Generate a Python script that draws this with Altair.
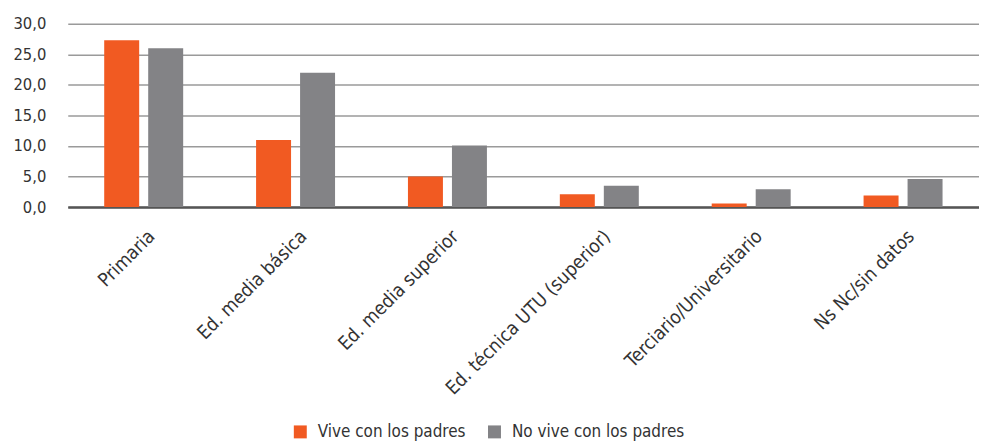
import altair as alt
import pandas as pd

categories = ["Primaria", "Ed. media básica", "Ed. media superior",
              "Ed. técnica UTU (superior)", "Terciario/Universitario", "Ns Nc/sin datos"]
series = ["Vive con los padres", "No vive con los padres"]
vive = [27.3, 11.0, 5.0, 2.1, 0.6, 1.9]
no_vive = [26.0, 22.0, 10.1, 3.5, 2.9, 4.6]
y_ticks = [0, 5, 10, 15, 20, 25, 30]
colors = ["#F15A22", "#838386"]

rows = []
for c, a, b in zip(categories, vive, no_vive):
    rows.append({"cat": c, "serie": series[0], "val": a})
    rows.append({"cat": c, "serie": series[1], "val": b})
df = pd.DataFrame(rows)

FONT = "DejaVu Sans Condensed, Liberation Sans Narrow, sans-serif"

chart = alt.Chart(df).mark_bar().encode(
    x=alt.X("cat:N", sort=categories, title=None,
            scale=alt.Scale(paddingInner=0.48, paddingOuter=0.24),
            axis=alt.Axis(labelAngle=-45, labelAlign="right", labelBaseline="middle",
                          ticks=False, domain=True, domainColor="#555555", domainWidth=2.5,
                          labelFontSize=19, labelColor="#333333", labelPadding=26,
                          labelFont=FONT, labelOffset=8, labelLimit=400)),
    xOffset=alt.XOffset("serie:N", sort=series,
                        scale=alt.Scale(paddingInner=0.205, paddingOuter=0)),
    y=alt.Y("val:Q", title=None,
            scale=alt.Scale(domain=[0, 30], nice=False),
            axis=alt.Axis(values=y_ticks, ticks=False, domain=False, grid=True,
                          gridColor="#9a9a9a", gridWidth=1.5,
                          labelExpr="replace(format(datum.value, '.1f'), '.', ',')",
                          labelFontSize=16.5, labelColor="#333333", labelPadding=22,
                          labelFont=FONT)),
    color=alt.Color("serie:N", sort=series, title=None,
                    scale=alt.Scale(domain=series, range=colors),
                    legend=alt.Legend(orient="none", legendX=225, legendY=401,
                                      direction="horizontal", symbolType="square",
                                      symbolSize=169, symbolStrokeWidth=0,
                                      labelFontSize=17, labelColor="#333333",
                                      labelFont=FONT, labelOffset=9, columnPadding=20,
                                      labelLimit=300)),
).properties(
    width=915, height=184,
    autosize=alt.AutoSizeParams(type="none"),
    padding={"left": 60, "top": 15, "right": 0, "bottom": 237},
).configure_view(stroke=None)

chart.save("out.html", embed_options={"renderer": "svg", "actions": False})
